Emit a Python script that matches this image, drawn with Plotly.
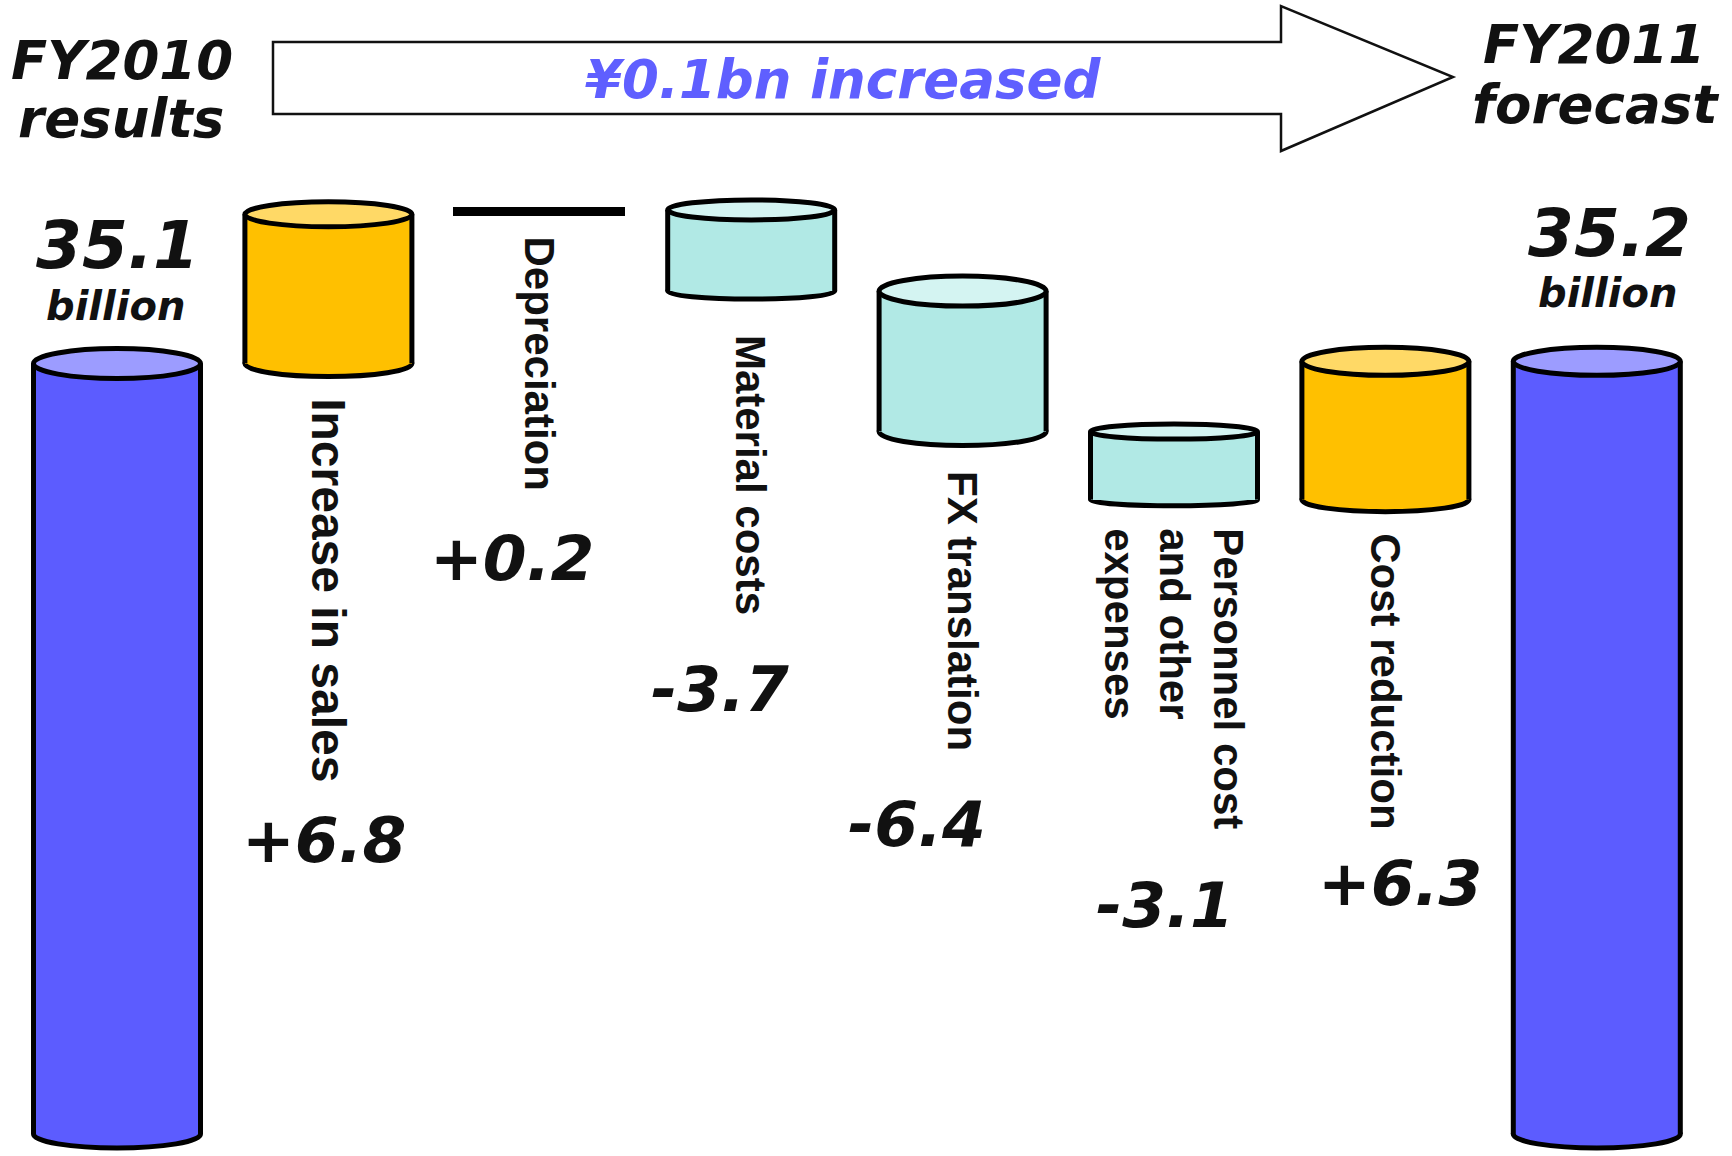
import plotly.graph_objects as go

# ---------------- data ----------------
start_name = "FY2010"
start_sub = "results"
end_name = "FY2011"
end_sub = "forecast"
start_value = 35.1
end_value = 35.2
change_names = [
    "Increase in sales",
    "Depreciation",
    "Material costs",
    "FX translation",
    "Personnel cost<br>and other<br>expenses",
    "Cost reduction",
]
change_values = [6.8, 0.2, -3.7, -6.4, -3.1, 6.3]
headline = "¥0.1bn increased"
unit = "billion"

# ---------------- styles ----------------
W, H = 1732, 1156
BAR_W = 0.79
OUTLINE = 5
TOTAL_BODY, TOTAL_TOP = "#5C5CFF", "#9C9CFF"
UP_BODY, UP_TOP = "#FFC000", "#FFD966"
DOWN_BODY, DOWN_TOP = "#B1E9E5", "#D4F4F2"
HEAD_BLUE = "#5F5FFF"
FLAT_LIMIT = 0.5  # changes smaller than this are drawn as a flat bar

# cap (ellipse) half-heights in pixels, per slot: top cap, bottom cap
cap_top_px = [15, 12.5, 0, 10, 15, 7.5, 14, 14]
cap_bot_px = [14, 13, 0, 8, 14, 6, 12, 14]
# value-label offsets (pixels below the lower end of each change bar, and sideways)
value_dy = [477, 344, 398, 393, 406, 384]
value_dx = [-4, -28, -31, -46, -9, 15]
# change-name label tweaks: font size and extra drop in pixels
name_size = [48, 42, 42, 42, 42, 42]
name_dy = [0, 0, 14, 3, 0, 0]

VALUE_FONT = dict(family="DejaVu Sans", size=63, color="#111111", weight="bold", style="italic")
HEAD_FONT = dict(family="DejaVu Sans", size=53, color="#111111", weight="bold", style="italic")
UNIT_FONT = dict(family="DejaVu Sans", size=40, color="#111111", weight="bold", style="italic")
NAME_FONT = dict(family="Liberation Sans", size=42, color="#111111", weight="bold")

# ---------------- waterfall geometry ----------------
n = len(change_values) + 2
xs = list(range(n))
bases, heights, bodies, tops, flat = [], [], [], [], []

bases.append(0.0)
heights.append(start_value)
bodies.append(TOTAL_BODY)
tops.append(TOTAL_TOP)
flat.append(False)

level = start_value
for v in change_values:
    lo = min(level, level + v)
    bases.append(lo)
    heights.append(abs(v))
    is_flat = abs(v) < FLAT_LIMIT
    flat.append(is_flat)
    if is_flat:
        bodies.append("#000000")
        tops.append("#000000")
    elif v > 0:
        bodies.append(UP_BODY)
        tops.append(UP_TOP)
    else:
        bodies.append(DOWN_BODY)
        tops.append(DOWN_TOP)
    level += v

bases.append(0.0)
heights.append(end_value)
bodies.append(TOTAL_BODY)
tops.append(TOTAL_TOP)
flat.append(False)

fig = go.Figure()
fig.add_trace(
    go.Bar(
        x=xs,
        y=heights,
        base=bases,
        width=BAR_W,
        marker=dict(
            color=bodies,
            line=dict(color="#000000", width=[OUTLINE if f else 0 for f in flat]),
        ),
        hoverinfo="skip",
        showlegend=False,
    )
)

shapes = []
half = BAR_W / 2
for i in xs:
    if flat[i]:
        continue
    b = bases[i]
    t = bases[i] + heights[i]
    # bottom cap (drawn beneath the body, only its lower arc stays visible)
    shapes.append(dict(
        type="circle", xref="x", yref="y", layer="below",
        x0=i - half, x1=i + half,
        ysizemode="pixel", yanchor=b, y0=-cap_bot_px[i], y1=cap_bot_px[i],
        fillcolor=bodies[i], line=dict(color="#000000", width=OUTLINE),
    ))
    # side walls
    for sx in (i - half, i + half):
        shapes.append(dict(
            type="line", xref="x", yref="y", layer="above",
            x0=sx, x1=sx, y0=b, y1=t,
            line=dict(color="#000000", width=OUTLINE),
        ))
    # top cap
    shapes.append(dict(
        type="circle", xref="x", yref="y", layer="above",
        x0=i - half, x1=i + half,
        ysizemode="pixel", yanchor=t, y0=-cap_top_px[i], y1=cap_top_px[i],
        fillcolor=tops[i], line=dict(color="#000000", width=OUTLINE),
    ))


def px(x, y):
    return x / W, 1 - y / H


# big header arrow
arrow_pts = [(273, 42), (1281, 42), (1281, 6), (1453, 77), (1281, 151), (1281, 114), (273, 114)]
path = "M " + " L ".join(f"{px(a, b)[0]:.5f},{px(a, b)[1]:.5f}" for a, b in arrow_pts) + " Z"
shapes.append(dict(
    type="path", xref="paper", yref="paper", path=path, layer="above",
    fillcolor="#FFFFFF", line=dict(color="#111111", width=2.5),
))

annotations = []


def add_text(text, x, y, font, **kw):
    xp, yp = px(x, y)
    annotations.append(dict(
        text=text, x=xp, y=yp, xref="paper", yref="paper",
        xanchor="center", yanchor="middle", showarrow=False, font=font, **kw
    ))


add_text(headline, 843, 80, dict(HEAD_FONT, color=HEAD_BLUE, size=53))
add_text(start_name, 122, 60, HEAD_FONT)
add_text(start_sub, 121, 119, HEAD_FONT)
add_text(end_name, 1594, 44, HEAD_FONT)
add_text(end_sub, 1595, 104, HEAD_FONT)

# totals above the start and end bars
for i, val, dy_num, dy_unit, dx in ((0, start_value, 118, 58, 0), (n - 1, end_value, 128, 68, 13)):
    annotations.append(dict(
        text=f"{val:.1f}", x=i, y=val, xref="x", yref="y", xshift=dx, yshift=dy_num,
        xanchor="center", yanchor="middle", showarrow=False,
        font=dict(VALUE_FONT, size=66),
    ))
    annotations.append(dict(
        text=unit, x=i, y=val, xref="x", yref="y", xshift=dx - 2, yshift=dy_unit,
        xanchor="center", yanchor="middle", showarrow=False, font=UNIT_FONT,
    ))

# change names (rotated) and signed values
for k, (name, v) in enumerate(zip(change_names, change_values)):
    i = k + 1
    lo = bases[i]
    annotations.append(dict(
        text=name, x=i, y=lo, xref="x", yref="y",
        yshift=-(cap_bot_px[i] + 20 + name_dy[k]),
        xanchor="center", yanchor="top", textangle=90, align="left",
        showarrow=False, font=dict(NAME_FONT, size=name_size[k]),
    ))
    annotations.append(dict(
        text=f"{v:+.1f}", x=i, y=lo, xref="x", yref="y",
        yshift=-value_dy[k], xshift=value_dx[k],
        xanchor="center", yanchor="middle", showarrow=False, font=VALUE_FONT,
    ))

PX_PER_UNIT = 21.95
ZERO_PX = 1134
y_top = ZERO_PX / PX_PER_UNIT
y_bot = (ZERO_PX - H) / PX_PER_UNIT
SLOT_PX = 211.4
FIRST_PX = 117

fig.update_layout(
    width=W,
    height=H,
    margin=dict(l=0, r=0, t=0, b=0),
    paper_bgcolor="#FFFFFF",
    plot_bgcolor="#FFFFFF",
    showlegend=False,
    shapes=shapes,
    annotations=annotations,
    xaxis=dict(
        range=[-FIRST_PX / SLOT_PX, (W - FIRST_PX) / SLOT_PX],
        visible=False, fixedrange=True,
    ),
    yaxis=dict(range=[y_bot, y_top], visible=False, fixedrange=True),
    bargap=0,
)

fig.write_html("out.html", config={"displayModeBar": False})
